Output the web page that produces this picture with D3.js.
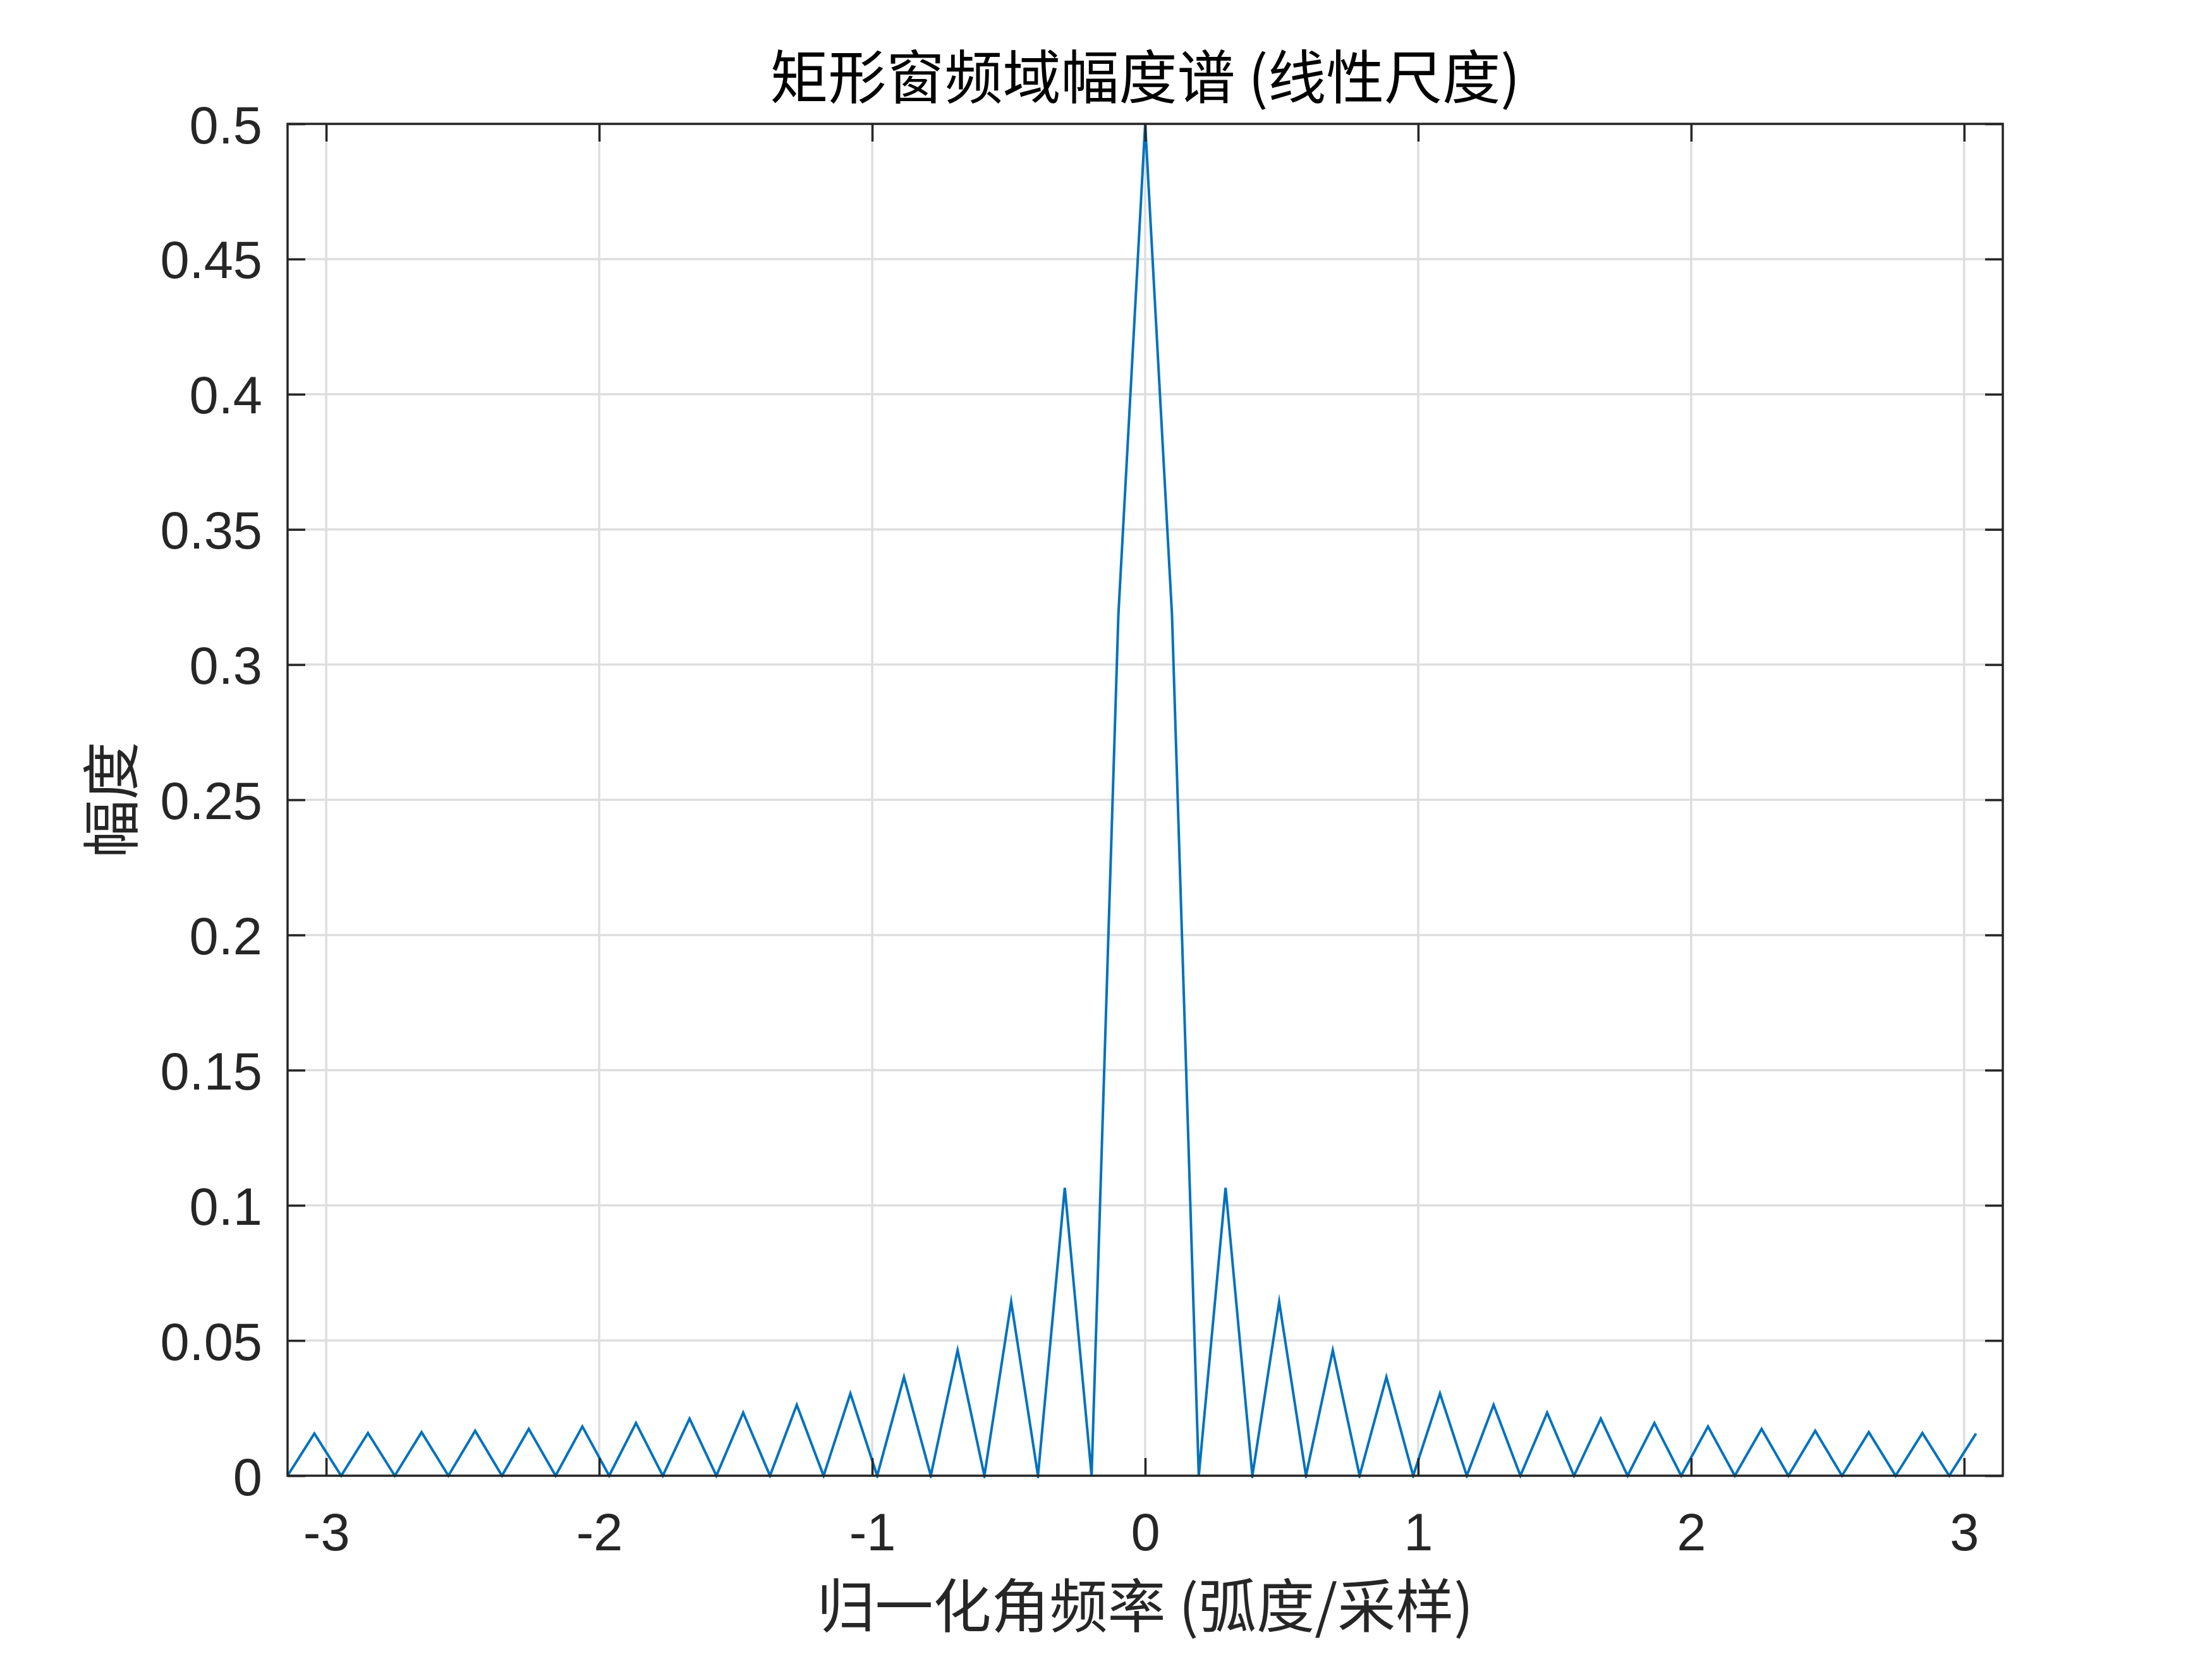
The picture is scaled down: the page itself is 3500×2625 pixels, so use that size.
<!DOCTYPE html>
<html>
<head>
<meta charset="utf-8">
<script src="https://cdn.jsdelivr.net/npm/d3@7"></script>
<style>
  html, body { margin: 0; padding: 0; background: #ffffff; }
  svg { display: block; }
</style>
</head>
<body>
<script>
// ---- data ----
const freq = [-3.1416,-3.0434,-2.9452,-2.8471,-2.7489,-2.6507,-2.5525,-2.4544,-2.3562,-2.2580,-2.1598,-2.0617,-1.9635,-1.8653,-1.7671,-1.6690,-1.5708,-1.4726,-1.3744,-1.2763,-1.1781,-1.0799,-0.9817,-0.8836,-0.7854,-0.6872,-0.5890,-0.4909,-0.3927,-0.2945,-0.1963,-0.0982,0,0.0982,0.1963,0.2945,0.3927,0.4909,0.5890,0.6872,0.7854,0.8836,0.9817,1.0799,1.1781,1.2763,1.3744,1.4726,1.5708,1.6690,1.7671,1.8653,1.9635,2.0617,2.1598,2.2580,2.3562,2.4544,2.5525,2.6507,2.7489,2.8471,2.9452,3.0434];
const magnitude = [0,0.0156,0,0.0158,0,0.0161,0,0.0166,0,0.0173,0,0.0182,0,0.0195,0,0.0211,0,0.0233,0,0.0262,0,0.0304,0,0.0365,0,0.0464,0,0.0643,0,0.1065,0,0.3184,0.5,0.3184,0,0.1065,0,0.0643,0,0.0464,0,0.0365,0,0.0304,0,0.0262,0,0.0233,0,0.0211,0,0.0195,0,0.0182,0,0.0173,0,0.0166,0,0.0161,0,0.0158,0,0.0156];
const xTicks = [-3,-2,-1,0,1,2,3];
const xTickLabels = ["-3","-2","-1","0","1","2","3"];
const yTicks = [0,0.05,0.1,0.15,0.2,0.25,0.3,0.35,0.4,0.45,0.5];
const yTickLabels = ["0","0.05","0.1","0.15","0.2","0.25","0.3","0.35","0.4","0.45","0.5"];
const xDomain = [-3.14159265, 3.14159265];
const yDomain = [0, 0.5];
const titleText = "矩形窗频域幅度谱 (线性尺度)";
const xLabelText = "归一化角频率 (弧度/采样)";
const yLabelText = "幅度";

// ---- layout ----
const W = 3500, H = 2625;
const L = 455, R = 3169, T = 196, B = 2335;
const axisColor = "#262626";
const gridColor = "#dedede";
const lineColor = "#0072BD";
const tickLen = 28;
const numFont = "'Liberation Sans', Arial, Helvetica, sans-serif";
const cjkFont = "'Noto Sans CJK SC', 'Noto Sans', sans-serif";

const data = freq.map((f, i) => ({ x: f, y: magnitude[i] }));

const svg = d3.select("body").append("svg")
  .attr("width", W).attr("height", H)
  .attr("viewBox", `0 0 ${W} ${H}`);
svg.append("rect").attr("width", W).attr("height", H).attr("fill", "#ffffff");

const x = d3.scaleLinear().domain(xDomain).range([L, R]);
const y = d3.scaleLinear().domain(yDomain).range([B, T]);

// grid
const grid = svg.append("g");
grid.selectAll("line.gx").data(xTicks).enter().append("line")
  .attr("x1", d => x(d)).attr("x2", d => x(d))
  .attr("y1", T).attr("y2", B)
  .attr("stroke", gridColor).attr("stroke-width", 3.5);
grid.selectAll("line.gy").data(yTicks).enter().append("line")
  .attr("x1", L).attr("x2", R)
  .attr("y1", d => y(d)).attr("y2", d => y(d))
  .attr("stroke", gridColor).attr("stroke-width", 3.5);

// data line
const clipId = "plotclip";
svg.append("clipPath").attr("id", clipId).append("rect")
  .attr("x", L).attr("y", T - 4).attr("width", R - L).attr("height", B - T + 8);
svg.append("path")
  .datum(data)
  .attr("clip-path", `url(#${clipId})`)
  .attr("fill", "none")
  .attr("stroke", lineColor)
  .attr("stroke-width", 4)
  .attr("stroke-linejoin", "miter")
  .attr("stroke-miterlimit", 10)
  .attr("d", d3.line().x(d => x(d.x)).y(d => y(d.y)));

// axes (box with inward ticks on all sides)
const xTickFmt = (d, i) => xTickLabels[xTicks.indexOf(d)];
const yTickFmt = (d) => yTickLabels[yTicks.indexOf(d)];

function styleAxis(g) {
  g.selectAll(".domain").remove();
  g.selectAll(".tick line").attr("stroke", axisColor).attr("stroke-width", 3.5);
}

const gBottom = svg.append("g").attr("transform", `translate(0,${B})`)
  .call(d3.axisBottom(x).tickValues(xTicks).tickFormat(xTickFmt).tickSizeInner(-tickLen).tickSizeOuter(0).tickPadding(58 + 60));
styleAxis(gBottom);
gBottom.selectAll(".tick text")
  .attr("font-family", numFont).attr("font-size", 83).attr("fill", axisColor)
  .attr("dy", 0).attr("y", 118);

const gTop = svg.append("g").attr("transform", `translate(0,${T})`)
  .call(d3.axisTop(x).tickValues(xTicks).tickFormat("").tickSizeInner(-tickLen).tickSizeOuter(0));
styleAxis(gTop);

const gLeft = svg.append("g").attr("transform", `translate(${L},0)`)
  .call(d3.axisLeft(y).tickValues(yTicks).tickFormat(yTickFmt).tickSizeInner(-tickLen).tickSizeOuter(0));
styleAxis(gLeft);
gLeft.selectAll(".tick text")
  .attr("font-family", numFont).attr("font-size", 83).attr("fill", axisColor)
  .attr("x", -40).attr("dy", 0).attr("y", 30)
  .attr("text-anchor", "end");

const gRight = svg.append("g").attr("transform", `translate(${R},0)`)
  .call(d3.axisRight(y).tickValues(yTicks).tickFormat("").tickSizeInner(-tickLen).tickSizeOuter(0));
styleAxis(gRight);

// box
svg.append("rect")
  .attr("x", L).attr("y", T).attr("width", R - L).attr("height", B - T)
  .attr("fill", "none").attr("stroke", axisColor).attr("stroke-width", 3.5);

// title
svg.append("text")
  .attr("x", (L + R) / 2).attr("y", 156)
  .attr("text-anchor", "middle")
  .attr("font-family", cjkFont).attr("font-size", 92)
  .attr("fill", "#000000")
  .text(titleText);

// x label
svg.append("text")
  .attr("x", (L + R) / 2).attr("y", 2575)
  .attr("text-anchor", "middle")
  .attr("font-family", cjkFont).attr("font-size", 92)
  .attr("fill", axisColor)
  .text(xLabelText);

// y label
svg.append("text")
  .attr("transform", `translate(210,${(T + B) / 2}) rotate(-90)`)
  .attr("text-anchor", "middle")
  .attr("font-family", cjkFont).attr("font-size", 92)
  .attr("fill", axisColor)
  .text(yLabelText);
</script>
</body>
</html>
